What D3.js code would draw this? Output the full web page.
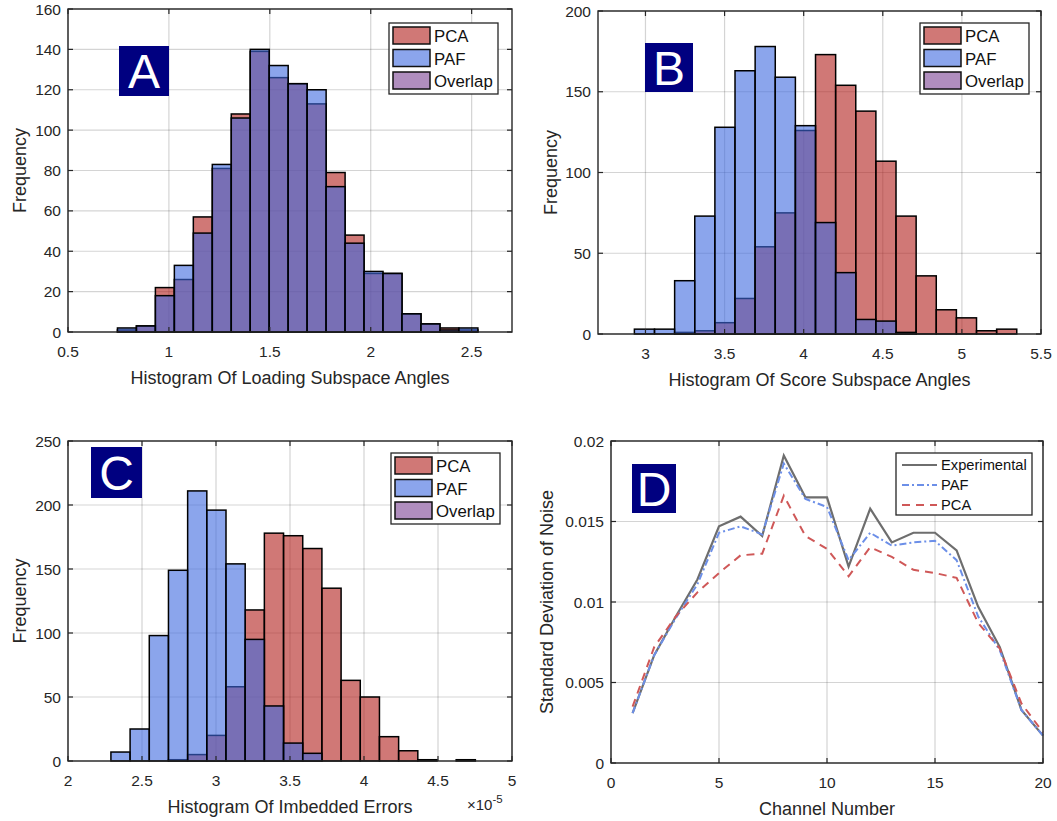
<!DOCTYPE html>
<html>
<head>
<meta charset="utf-8">
<script src="https://cdn.jsdelivr.net/npm/d3@7"></script>
<style>
  body { margin: 0; background: #fff; }
  svg { font-family: "Liberation Sans", Arial, Helvetica, sans-serif; }
</style>
</head>
<body>
<svg id="fig" width="1057" height="821"></svg>
<script>
// ---- data ----
// Panel A: loading subspace angles (19 bins)
const binsA = { start: 0.745, width: 0.094 };
const pcaA = [1, 3, 22, 26, 57, 81, 108, 139, 126, 123, 113, 79, 48, 29, 29, 9, 4, 2, 1];
const pafA = [2, 3, 18, 33, 49, 83, 106, 140, 132, 123, 120, 72, 44, 30, 29, 9, 4, 1, 2];

// Panel B: score subspace angles
const binsB = { start: 2.93, width: 0.1272 };
const pcaB = [0, 0, 1, 2, 7, 22, 54, 75, 126, 173, 154, 138, 107, 73, 36, 15, 10, 2, 3];
const pafB = [3, 3, 33, 73, 128, 163, 178, 159, 129, 69, 38, 9, 8, 1, 0, 0, 0, 0, 0];

// Panel C: imbedded errors (x 1e-5)
const binsC = { start: 2.29, width: 0.1296 };
const pcaC = [0, 0, 0, 1, 5, 20, 58, 118, 178, 176, 166, 135, 63, 50, 19, 8, 1, 0, 1];
const pafC = [7, 25, 98, 149, 211, 196, 154, 95, 43, 14, 6, 0, 0, 0, 0, 0, 0, 0, 0];

// Panel D: noise std per channel
const channels = d3.range(1, 21);
const expD = [0.0031, 0.0067, 0.0091, 0.0114, 0.0147, 0.0153, 0.0141, 0.0191, 0.0165, 0.0165,
              0.0122, 0.0158, 0.0137, 0.0143, 0.0143, 0.0132, 0.0097, 0.0072, 0.0033, 0.0017];
const pafD = [0.0031, 0.0067, 0.0090, 0.0111, 0.0143, 0.0147, 0.0142, 0.0186, 0.0164, 0.0159,
              0.0126, 0.0143, 0.0135, 0.0137, 0.0138, 0.0126, 0.0091, 0.0070, 0.0033, 0.0017];
const pcaD = [0.0035, 0.0072, 0.0091, 0.0106, 0.0118, 0.0129, 0.0130, 0.0166, 0.0141, 0.0133,
              0.0116, 0.0134, 0.0128, 0.0120, 0.0118, 0.0115, 0.0087, 0.0071, 0.0037, 0.0019];

const histLegend = ["PCA", "PAF", "Overlap"];
const lineLegend = ["Experimental", "PAF", "PCA"];

// ---- styling ----
const AX = "#262626";
const PCA_FILL = "rgb(177,30,27)";
const PAF_FILL = "rgb(62,105,223)";
const LEG_FILL = ["#d07876", "#8ba5ec", "#b08ebe"];
const TICK_FS = 15.5, LABEL_FS = 18;
const svg = d3.select("#fig");

function makeAxes(box, xDomain, yDomain, xTicks, yTicks, xFmt, yFmt) {
  const g = svg.append("g");
  const x = d3.scaleLinear().domain(xDomain).range([box.x0, box.x1]);
  const y = d3.scaleLinear().domain(yDomain).range([box.y1, box.y0]);

  // grid
  g.append("g").selectAll("line").data(xTicks).join("line")
    .attr("x1", d => x(d)).attr("x2", d => x(d))
    .attr("y1", box.y0).attr("y2", box.y1)
    .attr("stroke", AX).attr("stroke-opacity", 0.2).attr("stroke-width", 1.2);
  g.append("g").selectAll("line").data(yTicks).join("line")
    .attr("x1", box.x0).attr("x2", box.x1)
    .attr("y1", d => y(d)).attr("y2", d => y(d))
    .attr("stroke", AX).attr("stroke-opacity", 0.2).attr("stroke-width", 1.2);

  const front = svg.append("g"); // box + ticks drawn later, above data
  return { g, front, x, y, box, xTicks, yTicks, xFmt, yFmt };
}

function finishAxes(ax, xLabel, yLabel, yLabelX) {
  const { front, x, y, box } = ax;
  const tl = 5;
  // ticks on all four sides, pointing inwards
  ax.xTicks.forEach(t => {
    front.append("line").attr("x1", x(t)).attr("x2", x(t)).attr("y1", box.y1).attr("y2", box.y1 - tl)
      .attr("stroke", AX).attr("stroke-width", 1.2);
    front.append("line").attr("x1", x(t)).attr("x2", x(t)).attr("y1", box.y0).attr("y2", box.y0 + tl)
      .attr("stroke", AX).attr("stroke-width", 1.2);
  });
  ax.yTicks.forEach(t => {
    front.append("line").attr("x1", box.x0).attr("x2", box.x0 + tl).attr("y1", y(t)).attr("y2", y(t))
      .attr("stroke", AX).attr("stroke-width", 1.2);
    front.append("line").attr("x1", box.x1).attr("x2", box.x1 - tl).attr("y1", y(t)).attr("y2", y(t))
      .attr("stroke", AX).attr("stroke-width", 1.2);
  });
  front.append("rect")
    .attr("x", box.x0).attr("y", box.y0)
    .attr("width", box.x1 - box.x0).attr("height", box.y1 - box.y0)
    .attr("fill", "none").attr("stroke", AX).attr("stroke-width", 1.4);

  // tick labels
  front.append("g").selectAll("text").data(ax.xTicks).join("text")
    .attr("x", d => x(d)).attr("y", box.y1 + 25)
    .attr("text-anchor", "middle").attr("font-size", TICK_FS).attr("fill", AX)
    .text(ax.xFmt);
  front.append("g").selectAll("text").data(ax.yTicks).join("text")
    .attr("x", box.x0 - 7).attr("y", d => y(d) + 5.5)
    .attr("text-anchor", "end").attr("font-size", TICK_FS).attr("fill", AX)
    .text(ax.yFmt);

  front.append("text")
    .attr("x", (box.x0 + box.x1) / 2).attr("y", box.y1 + 52)
    .attr("text-anchor", "middle").attr("font-size", LABEL_FS).attr("fill", AX)
    .text(xLabel);
  front.append("text")
    .attr("transform", `translate(${yLabelX},${(box.y0 + box.y1) / 2}) rotate(-90)`)
    .attr("text-anchor", "middle").attr("font-size", LABEL_FS).attr("fill", AX)
    .text(yLabel);
}

function panelLetter(ax, dx, dy, w, h, letter) {
  const { front, box } = ax;
  front.append("rect").attr("x", box.x0 + dx).attr("y", box.y0 + dy)
    .attr("width", w).attr("height", h).attr("fill", "#000080");
  front.append("text").attr("x", box.x0 + dx + w / 2).attr("y", box.y0 + dy + h / 2 + 17)
    .attr("text-anchor", "middle").attr("font-size", 48).attr("fill", "#fff")
    .text(letter);
}

function histBars(ax, bins, values, fill) {
  ax.g.append("g").selectAll("rect")
    .data(values.map((v, i) => ({ v, i })).filter(d => d.v > 0))
    .join("rect")
    .attr("x", d => ax.x(bins.start + d.i * bins.width))
    .attr("width", d => ax.x(bins.start + (d.i + 1) * bins.width) - ax.x(bins.start + d.i * bins.width))
    .attr("y", d => ax.y(d.v))
    .attr("height", d => ax.y(0) - ax.y(d.v))
    .attr("fill", fill).attr("fill-opacity", 0.6)
    .attr("stroke", "#000").attr("stroke-width", 1.5);
}

function histLegendBox(ax, lx, ly) {
  const { front } = ax;
  const w = 109, h = 71;
  front.append("rect").attr("x", lx).attr("y", ly).attr("width", w).attr("height", h)
    .attr("fill", "#fff").attr("stroke", AX).attr("stroke-width", 1.3);
  histLegend.forEach((name, i) => {
    const ry = ly + 4 + i * 22.5;
    front.append("rect").attr("x", lx + 4).attr("y", ry).attr("width", 37).attr("height", 17)
      .attr("fill", LEG_FILL[i]).attr("stroke", "#111").attr("stroke-width", 1.5);
    front.append("text").attr("x", lx + 45).attr("y", ry + 15)
      .attr("font-size", 16.8).attr("fill", "#111").text(name);
  });
}

// ---- Panel A ----
const axA = makeAxes({ x0: 68, x1: 512, y0: 9, y1: 332 }, [0.5, 2.7], [0, 160],
  [0.5, 1, 1.5, 2, 2.5], d3.range(0, 161, 20), d => d, d => d);
histBars(axA, binsA, pcaA, PCA_FILL);
histBars(axA, binsA, pafA, PAF_FILL);
finishAxes(axA, "Histogram Of Loading Subspace Angles", "Frequency", 26);
panelLetter(axA, 51, 37, 50, 50, "A");
histLegendBox(axA, 389, 23);

// ---- Panel B ----
const axB = makeAxes({ x0: 598, x1: 1041, y0: 11, y1: 334 }, [2.7, 5.5], [0, 200],
  [3, 3.5, 4, 4.5, 5, 5.5], d3.range(0, 201, 50), d => d, d => d);
histBars(axB, binsB, pcaB, PCA_FILL);
histBars(axB, binsB, pafB, PAF_FILL);
finishAxes(axB, "Histogram Of Score Subspace Angles", "Frequency", 557);
panelLetter(axB, 47, 32, 48, 49, "B");
histLegendBox(axB, 920, 23);

// ---- Panel C ----
const axC = makeAxes({ x0: 68, x1: 512, y0: 441, y1: 761 }, [2, 5], [0, 250],
  [2, 2.5, 3, 3.5, 4, 4.5, 5], d3.range(0, 251, 50), d => d, d => d);
histBars(axC, binsC, pcaC, PCA_FILL);
histBars(axC, binsC, pafC, PAF_FILL);
finishAxes(axC, "Histogram Of Imbedded Errors", "Frequency", 26);
panelLetter(axC, 23, 6, 51, 51, "C");
histLegendBox(axC, 391, 453);
axC.front.append("text").attr("x", 467).attr("y", 810).attr("font-size", 15).attr("fill", AX)
  .text("\u00d710").append("tspan").attr("dy", -7).attr("font-size", 11.5).text("-5");

// ---- Panel D ----
const axD = makeAxes({ x0: 611, x1: 1043, y0: 441, y1: 763 }, [0, 20], [0, 0.02],
  [0, 5, 10, 15, 20], [0, 0.005, 0.01, 0.015, 0.02], d => d, d => d);
const series = [
  { vals: expD, color: "#6e6e6e", dash: null, w: 2.2 },
  { vals: pafD, color: "#6c8fe8", dash: "7,3,2,3", w: 2 },
  { vals: pcaD, color: "#cf5858", dash: "8,6", w: 2 }
];
const line = d3.line().x((d, i) => axD.x(channels[i])).y(d => axD.y(d));
series.forEach(s => {
  axD.g.append("path").attr("d", line(s.vals)).attr("fill", "none")
    .attr("stroke", s.color).attr("stroke-width", s.w)
    .attr("stroke-dasharray", s.dash);
});
finishAxes(axD, "Channel Number", "Standard Deviation of Noise", 553);
panelLetter(axD, 21, 23, 44, 49, "D");
{
  const lx = 896, ly = 453, w = 136, h = 62;
  axD.front.append("rect").attr("x", lx).attr("y", ly).attr("width", w).attr("height", h)
    .attr("fill", "#fff").attr("stroke", AX).attr("stroke-width", 1.3);
  lineLegend.forEach((name, i) => {
    const s = series[i];
    const ry = ly + 12 + i * 20;
    axD.front.append("line").attr("x1", lx + 6).attr("x2", lx + 41).attr("y1", ry).attr("y2", ry)
      .attr("stroke", s.color).attr("stroke-width", s.w).attr("stroke-dasharray", s.dash);
    axD.front.append("text").attr("x", lx + 45).attr("y", ry + 5)
      .attr("font-size", 14.7).attr("fill", "#111").text(name);
  });
}
</script>
</body>
</html>
